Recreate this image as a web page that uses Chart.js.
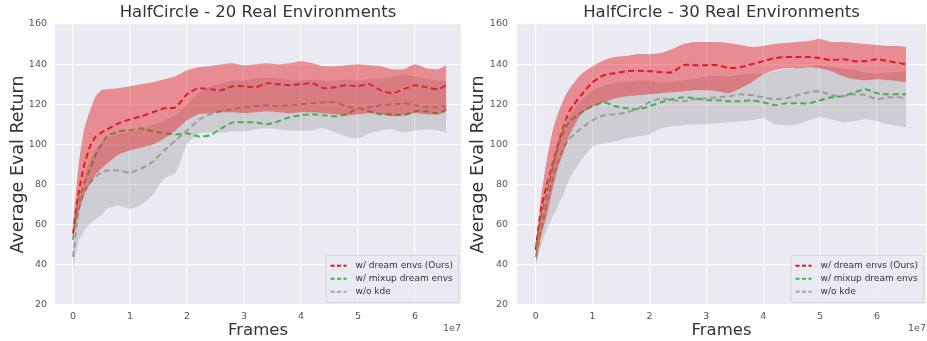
<!DOCTYPE html>
<html>
<head>
<meta charset="utf-8">
<script src="https://cdn.jsdelivr.net/npm/chart.js@4.4.1/dist/chart.umd.min.js"></script>
<style>
    html, body { margin: 0; padding: 0; background: #fff; }
    #wrap { position: relative; width: 927px; height: 341px; }
    #wrap canvas { position: absolute; top: 0; }
</style>
</head>
<body>
<div id="wrap">
    <canvas id="c20" width="463" height="341" style="left:0"></canvas>
    <canvas id="c30" width="464" height="341" style="left:463px"></canvas>
</div>
<script>
// ── Data (frames in units of 1e7) ───────────────────────────────────────────

var TITLE_20 = 'HalfCircle - 20 Real Environments';
var TITLE_30 = 'HalfCircle - 30 Real Environments';
var X_TICKS = [0, 1, 2, 3, 4, 5, 6];
var Y_TICKS = [20, 40, 60, 80, 100, 120, 140, 160];
var LABELS = ['w/ dream envs (Ours)', 'w/ mixup dream envs', 'w/o kde'];

var FRAMES_20 = [0, 0.1, 0.2, 0.3, 0.4, 0.5, 0.6, 0.8, 1.0, 1.2, 1.4, 1.6, 1.8, 2.0, 2.2, 2.4, 2.6, 2.8, 3.0, 3.2, 3.4, 3.6, 3.8, 4.0, 4.2, 4.4, 4.6, 4.8, 5.0, 5.2, 5.4, 5.6, 5.8, 6.0, 6.2, 6.4, 6.55];
var DREAM_20     = [55.7, 76, 90, 99, 104, 106, 107.5, 110.5, 112.5, 114, 116, 118, 118.5, 125, 128, 127.5, 127, 129, 129, 128.5, 130.5, 130, 129.5, 130, 130.5, 128, 128.5, 129.5, 129, 130, 127, 125.5, 127.5, 129.5, 128.5, 127.5, 129.5];
var DREAM_20_HI  = [60, 90, 108, 117, 124, 127, 127.5, 128, 129, 130, 131, 132.5, 134, 137, 138.5, 139, 140, 140.5, 139.5, 140, 140.5, 140, 140.5, 141.5, 140.5, 139, 139, 139.5, 140, 139.5, 139, 137.5, 137.5, 140, 138, 137.5, 139.5];
var DREAM_20_LO  = [52, 66, 75, 80, 85, 88, 90.5, 95, 97, 98.5, 100, 103, 107, 112, 115, 115.5, 116, 116, 115.5, 116, 116.5, 116, 115.5, 116, 116, 115.5, 115, 114.5, 115, 115.5, 115, 114, 114.5, 115.5, 115, 115, 116];
var MIXUP_20     = [52.4, 72, 81, 88, 95, 100, 104, 106.5, 107, 108, 106.5, 105.5, 105, 105.5, 104, 104.5, 108, 111, 111, 111, 110, 111.5, 113.5, 114.5, 115, 114.5, 114, 115, 118, 116.5, 115, 115, 114.5, 116.5, 116.5, 115.5, 117.5];
var NOKDE_20     = [44, 67, 77, 81, 84, 86, 87, 87, 86, 88, 91.5, 97, 102, 107, 112, 115, 116.5, 117.5, 118.5, 119, 119.5, 119, 119.5, 120, 120.5, 121, 121, 119, 118, 118.5, 119.5, 120, 120.5, 119.5, 118.5, 118.5, 119];
var NOKDE_20_HI  = [50, 70, 85, 93, 98, 101, 103.5, 105.5, 106.5, 108, 110, 112, 115, 120, 126, 129, 130.5, 132, 132, 133, 133.5, 133, 132.5, 132, 132.5, 132, 132, 132.5, 132, 133, 133, 134, 135, 134, 133, 132, 132];
var NOKDE_20_LO  = [37, 52, 57, 60.5, 63, 65, 68, 69.5, 68, 70, 75, 83, 86, 100, 105.5, 106, 106, 106.5, 106.5, 107.5, 108, 107.5, 107, 107, 107, 108, 106, 104, 103, 105.5, 107, 107.5, 106, 107, 107.5, 107, 106];

var FRAMES_30 = [0, 0.1, 0.2, 0.3, 0.4, 0.5, 0.6, 0.8, 1.0, 1.2, 1.4, 1.6, 1.8, 2.0, 2.2, 2.4, 2.6, 2.8, 3.0, 3.2, 3.4, 3.6, 3.8, 4.0, 4.2, 4.4, 4.6, 4.8, 5.0, 5.2, 5.4, 5.6, 5.8, 6.0, 6.2, 6.4, 6.51];
var DREAM_30     = [47.4, 69, 80, 91, 101, 110, 117, 124.5, 131, 134.5, 135.5, 136.5, 136.7, 136.5, 136, 136, 139.5, 139.5, 139.5, 139.5, 138, 138.5, 140, 141.5, 143, 143.5, 143.5, 143.5, 143, 142, 142.5, 141.5, 141.5, 142.5, 141.5, 140.5, 140];
var DREAM_30_HI  = [48, 75, 93, 107, 116, 123, 128, 135, 139, 142, 143.5, 144, 145, 145, 145.5, 147.5, 150, 151, 151, 151, 150.5, 149.5, 148.5, 149, 150, 150.5, 151, 151.5, 152.5, 151, 151, 150.5, 150, 149.5, 149, 149, 148.5];
var DREAM_30_LO  = [40, 55, 65, 78, 89, 97, 105, 115, 119, 121, 123, 124, 124.5, 125, 125.5, 126, 126.5, 127, 127, 126.5, 125.5, 128, 131, 135, 137, 138, 138, 138.5, 138, 136.5, 134, 132.5, 132, 132.5, 132, 131.5, 131];
var MIXUP_30     = [48.9, 64, 77, 89, 100, 107, 111.5, 116, 119, 121, 119, 118, 117.5, 119, 121, 122.5, 123.5, 123, 122, 122, 121.5, 121.5, 122, 121, 119.5, 120.5, 120.5, 120.5, 122, 123.5, 124, 126, 127.5, 125.5, 125, 125, 125];
var NOKDE_30     = [44, 58, 71, 83, 92, 99, 103, 108, 112, 114.5, 115, 116, 118, 121, 123, 122, 121.5, 122.5, 123, 123.5, 124, 125, 124.5, 123.5, 122.5, 123, 124.5, 126, 126.5, 124.5, 124, 125, 124.5, 122.5, 123.5, 123.5, 123];
var NOKDE_30_HI  = [46, 62, 78, 92, 102, 110, 115, 122, 127, 129.5, 131, 131.5, 132, 132, 131, 131.5, 132, 133, 134, 134.5, 134, 135, 135.5, 135.5, 136.5, 138, 138.5, 139, 139.5, 139, 138, 137.5, 136, 135.5, 136, 136.5, 136.5];
var NOKDE_30_LO  = [40, 50, 58, 64, 70, 76, 83, 92, 99, 100.5, 101.5, 103, 104, 105, 108, 109, 109.5, 110, 110, 110.5, 111, 111.5, 112, 113, 110, 109.5, 110, 112, 113.5, 112.5, 111, 111.5, 112.5, 111.5, 110, 109, 108.5];

// ── Styles ──────────────────────────────────────────────────────────────────

var RED   = '#e3161e';
var GREEN = '#2ec23c';
var GREY  = '#a6a6a6';
var BAND_RED  = 'rgba(228, 26, 28, 0.45)';
var BAND_GREY = 'rgba(128, 128, 128, 0.27)';
var FONT = '"DejaVu Sans", sans-serif';

function pts(xs, ys) {
    return xs.map(function (x, i) { return { x: x, y: ys[i] }; });
}

function bandSets(xs, hi, lo, color, edge) {
    return [
        { data: pts(xs, hi), fill: '+1', backgroundColor: color, borderColor: edge, borderWidth: edge ? 1 : 0, pointRadius: 0, tension: 0.2 },
        { data: pts(xs, lo), fill: false, borderColor: 'transparent', borderWidth: 0, pointRadius: 0, tension: 0.2 }
    ];
}

function lineSet(xs, ys, color, label) {
    return {
        label: label, isLine: true, data: pts(xs, ys), fill: false,
        borderColor: color, borderWidth: 2, borderDash: [6, 3.5],
        pointRadius: 0, tension: 0.2
    };
}

// ── Plugins: plot background, title, legend, exponent ───────────────────────

var decor = {
    id: 'decor',
    beforeDraw: function (chart) {
        var a = chart.chartArea, ctx = chart.ctx;
        ctx.save();
        ctx.fillStyle = '#eaeaf2';
        ctx.fillRect(a.left, a.top, a.right - a.left, a.bottom - a.top);
        ctx.restore();
    },
    afterDraw: function (chart) {
        var o = chart.options.plugins.decor;
        var a = chart.chartArea, ctx = chart.ctx;
        ctx.save();

        ctx.fillStyle = '#333';
        ctx.font = '16.5px ' + FONT;
        ctx.textAlign = 'center';
        ctx.textBaseline = 'middle';
        ctx.fillText(o.title, (a.left + a.right) / 2, 13);

        ctx.font = '9.5px ' + FONT;
        ctx.fillStyle = '#555';
        ctx.textAlign = 'right';
        ctx.fillText('1e7', a.right, 329);

        // legend, bottom right inside the axes
        var lines = chart.data.datasets.filter(function (d) { return d.isLine; }).reverse();
        ctx.font = '9px ' + FONT;
        var tw = 0;
        lines.forEach(function (d) { tw = Math.max(tw, ctx.measureText(d.label).width); });
        var w = 5 + 16 + 9 + tw + 5, h = 47;
        var x0 = a.right - 3 - w, y0 = a.bottom - 3 - h;
        ctx.fillStyle = 'rgba(234, 234, 242, 0.85)';
        ctx.strokeStyle = '#d4d4dc';
        ctx.lineWidth = 1;
        ctx.beginPath();
        ctx.roundRect(x0 + 0.5, y0 + 0.5, w, h, 2);
        ctx.fill();
        ctx.stroke();
        ctx.textAlign = 'left';
        lines.forEach(function (d, i) {
            var y = y0 + 10.7 + i * 13;
            ctx.strokeStyle = d.borderColor;
            ctx.lineWidth = 2;
            ctx.setLineDash([4, 2.5]);
            ctx.beginPath();
            ctx.moveTo(x0 + 5, y);
            ctx.lineTo(x0 + 21, y);
            ctx.stroke();
            ctx.setLineDash([]);
            ctx.fillStyle = '#333';
            ctx.fillText(d.label, x0 + 30, y);
        });
        ctx.restore();
    }
};

// ── Chart builder ───────────────────────────────────────────────────────────

function makeChart(id, title, xs, series, xMin, xMax, yWidth, yTitlePad, padRight, yTickPad) {
    var datasets = []
        .concat(bandSets(xs, series.dreamHi, series.dreamLo, BAND_RED, null))
        .concat(bandSets(xs, series.nokdeHi, series.nokdeLo, BAND_GREY, 'rgba(255,255,255,0.35)'))
        .concat([
            lineSet(xs, series.nokde, GREY, LABELS[2]),
            lineSet(xs, series.mixup, GREEN, LABELS[1]),
            lineSet(xs, series.dream, RED, LABELS[0])
        ]);

    return new Chart(document.getElementById(id).getContext('2d'), {
        type: 'line',
        data: { datasets: datasets },
        plugins: [decor],
        options: {
            responsive: false,
            animation: false,
            layout: { padding: { top: 24, right: padRight, bottom: 0, left: 0 } },
            plugins: {
                legend: { display: false },
                tooltip: { enabled: false },
                decor: { title: title }
            },
            scales: {
                x: {
                    type: 'linear', min: xMin, max: xMax,
                    afterBuildTicks: function (s) { s.ticks = X_TICKS.map(function (v) { return { value: v }; }); },
                    afterFit: function (s) { s.height = 36; },
                    grid: { color: '#ffffff', lineWidth: 1.2, drawTicks: false },
                    border: { display: false },
                    ticks: { color: '#555', padding: 6, font: { family: FONT, size: 9.5 } },
                    title: { display: true, text: 'Frames', color: '#333', padding: 0, font: { family: FONT, size: 16.5 } }
                },
                y: {
                    type: 'linear', min: 20, max: 160,
                    afterBuildTicks: function (s) { s.ticks = Y_TICKS.map(function (v) { return { value: v }; }); },
                    afterFit: function (s) { s.width = yWidth; },
                    grid: { color: '#ffffff', lineWidth: 1.2, drawTicks: false },
                    border: { display: false },
                    ticks: { color: '#555', padding: yTickPad, font: { family: FONT, size: 9.5 } },
                    title: { display: true, text: 'Average Eval Return', color: '#333', padding: { top: yTitlePad, bottom: 0 }, font: { family: FONT, size: 17.5 } }
                }
            }
        }
    });
}

makeChart('c20', TITLE_20, FRAMES_20, {
    dream: DREAM_20, dreamHi: DREAM_20_HI, dreamLo: DREAM_20_LO,
    mixup: MIXUP_20,
    nokde: NOKDE_20, nokdeHi: NOKDE_20_HI, nokdeLo: NOKDE_20_LO
}, -0.316, 6.807, 55, 7.5, 2, 8);

makeChart('c30', TITLE_30, FRAMES_30, {
    dream: DREAM_30, dreamHi: DREAM_30_HI, dreamLo: DREAM_30_LO,
    mixup: MIXUP_30,
    nokde: NOKDE_30, nokdeHi: NOKDE_30_HI, nokdeLo: NOKDE_30_LO
}, -0.329, 6.862, 54, 4.5, 1, 9);
</script>
</body>
</html>
